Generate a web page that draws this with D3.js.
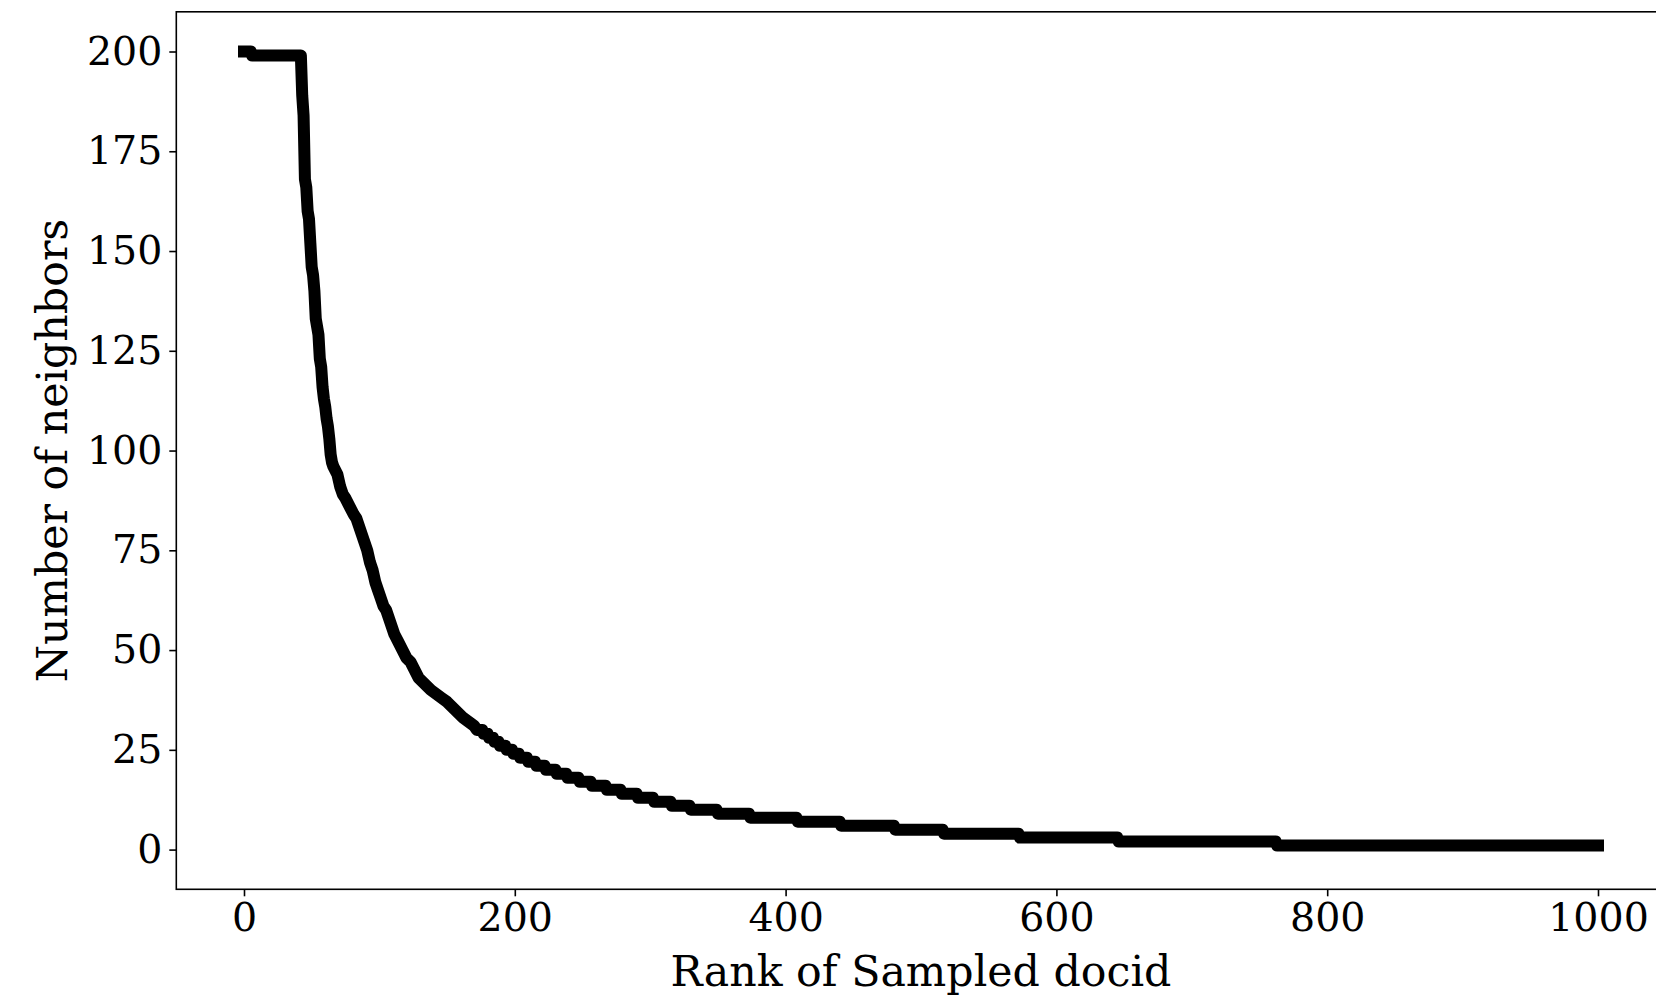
<!DOCTYPE html>
<html>
<head>
<meta charset="utf-8">
<script src="https://cdn.jsdelivr.net/npm/d3@7"></script>
<style>
  html, body { margin: 0; padding: 0; background: #fff; overflow: hidden; }
  svg { display: block; }
  .tick text { font-family: "DejaVu Serif", serif; font-size: 39.5px; fill: #000; }
</style>
</head>
<body>
<div class="chart"></div>
<script>
// rank of sampled docid / number of neighbors (vertices)
const ranks = [
  0, 5, 6, 42, 43, 44, 45, 46, 47, 48, 49, 50, 51, 52, 53, 54, 55, 56, 57, 58,
  59, 60, 61, 62, 63, 64, 65, 66, 69, 71, 73, 75, 78, 81, 83, 85, 87, 89, 91, 93,
  95, 97, 99, 101, 103, 105, 107, 109, 111, 114, 117, 120, 123, 126, 129, 132, 135, 138, 142, 146,
  150, 153, 156, 159, 162, 166, 170,
  172, 176, 177, 180, 181, 184, 185, 188, 189, 193, 194, 198, 199, 203, 204, 209, 210, 215,
  216, 222, 223, 230, 231, 238, 239, 247, 248, 256, 257, 267, 268, 278, 279, 290,
  291, 302, 303, 315, 316, 329, 330, 349, 350, 373, 374, 408, 409, 440, 441, 480,
  481, 516, 517, 572, 573, 645, 646, 762, 763, 1000
];
const neighbors = [
  200, 200, 199, 199, 189, 184, 168, 166, 160, 158, 152, 146, 144, 140, 133, 131, 129, 123, 121, 116,
  113, 111, 108, 106, 103, 99, 97, 96, 94, 91, 89, 88, 86, 84, 83, 81, 79, 77, 75, 72,
  70, 67, 65, 63, 61, 60, 58, 56, 54, 52, 50, 48, 47, 45, 43, 42, 41, 40, 39, 38,
  37, 36, 35, 34, 33, 32, 31,
  30, 30, 29, 29, 28, 28, 27, 27, 26, 26, 25, 25, 24, 24, 23, 23, 22, 22,
  21, 21, 20, 20, 19, 19, 18, 18, 17, 17, 16, 16, 15, 15, 14, 14,
  13, 13, 12, 12, 11, 11, 10, 10, 9, 9, 8, 8, 7, 7, 6, 6,
  5, 5, 4, 4, 3, 3, 2, 2, 1, 1
];
const xTicks = [0, 200, 400, 600, 800, 1000];
const yTicks = [0, 25, 50, 75, 100, 125, 150, 175, 200];

const data = ranks.map((r, i) => ({ rank: r, n: neighbors[i] }));

const W = 1656, H = 1000;
// axes box (right edge falls just outside the picture, like the original)
const box = { left: 176.3, right: 1665.7, top: 11.8, bottom: 889.3 };

const svg = d3.select(".chart")
  .append("svg")
  .attr("width", W)
  .attr("height", H);

// matplotlib-style 5% margins
const x = d3.scaleLinear().domain([-50, 1050]).range([box.left, box.right]);
const y = d3.scaleLinear().domain([-9.95, 209.95]).range([box.bottom, box.top]);

// the curve
const line = d3.line()
  .x(d => x(d.rank))
  .y(d => y(d.n));

svg.append("path")
  .datum(data)
  .attr("d", line)
  .attr("fill", "none")
  .attr("stroke", "#000")
  .attr("stroke-width", 12)
  .attr("stroke-linejoin", "round")
  .attr("stroke-linecap", "square");

// axes
const xAxis = svg.append("g")
  .attr("transform", `translate(0,${box.bottom})`)
  .call(d3.axisBottom(x).tickValues(xTicks).tickFormat(d3.format("d"))
    .tickSizeOuter(0).tickSize(7).tickPadding(7));

const yAxis = svg.append("g")
  .attr("transform", `translate(${box.left},0)`)
  .call(d3.axisLeft(y).tickValues(yTicks).tickFormat(d3.format("d"))
    .tickSizeOuter(0).tickSize(7).tickPadding(7));

[xAxis, yAxis].forEach(g => {
  g.select(".domain").remove();
  g.selectAll(".tick line").attr("stroke", "#000").attr("stroke-width", 1.6);
});

// spines
svg.append("rect")
  .attr("x", box.left)
  .attr("y", box.top)
  .attr("width", box.right - box.left)
  .attr("height", box.bottom - box.top)
  .attr("fill", "none")
  .attr("stroke", "#000")
  .attr("stroke-width", 1.6);

// axis titles
svg.append("text")
  .attr("x", (box.left + box.right) / 2)
  .attr("y", 986)
  .attr("text-anchor", "middle")
  .style("font-family", "DejaVu Serif, serif")
  .style("font-size", "42.7px")
  .text("Rank of Sampled docid");

svg.append("text")
  .attr("transform", `translate(67,${(box.top + box.bottom) / 2}) rotate(-90)`)
  .attr("text-anchor", "middle")
  .style("font-family", "DejaVu Serif, serif")
  .style("font-size", "42.7px")
  .text("Number of neighbors");
</script>
</body>
</html>
